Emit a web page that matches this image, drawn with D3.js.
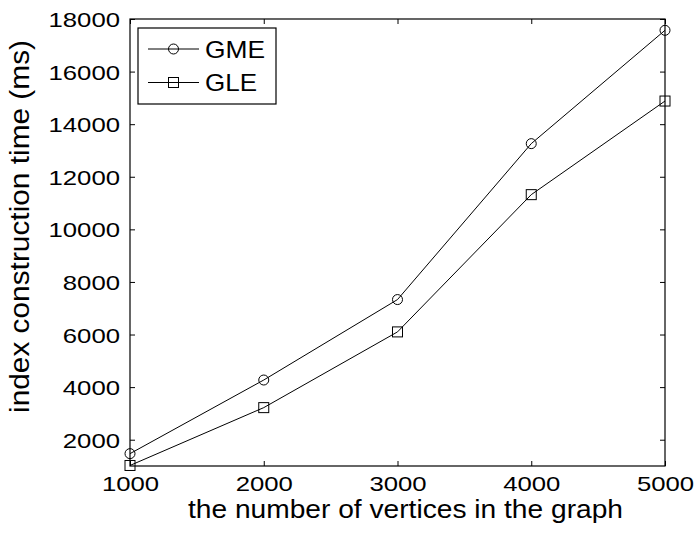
<!DOCTYPE html>
<html>
<head>
<meta charset="utf-8">
<script src="https://cdn.jsdelivr.net/npm/d3@7"></script>
<style>
  body { margin: 0; background: #fff; }
  text { font-family: "Liberation Sans", Arial, sans-serif; fill: #000; }
</style>
</head>
<body>
<script>
// Data
const vertices = [1000, 2000, 3000, 4000, 5000];
const gme = [1470, 4270, 7330, 13260, 17570];
const gle = [1020, 3220, 6100, 11320, 14880];
const xTicks = [1000, 2000, 3000, 4000, 5000];
const yTicks = [2000, 4000, 6000, 8000, 10000, 12000, 14000, 16000, 18000];

// SVG setup
const width = 697;
const height = 533;
const margin = {top: 19, right: 32, bottom: 67, left: 130};
const font = '"Liberation Sans", Arial, sans-serif';

const svg = d3.select('body')
.append('svg')
.attr('width', width)
.attr('height', height);

const xScale = d3.scaleLinear()
.domain([1000, 5000])
.range([margin.left, width - margin.right]);

const yScale = d3.scaleLinear()
.domain([1000, 18000])
.range([height - margin.bottom, margin.top]);

const x0 = xScale.range()[0], x1 = xScale.range()[1];
const y0 = yScale.range()[0], y1 = yScale.range()[1];

// Box
svg.append('rect')
.attr('x', x0)
.attr('y', y1)
.attr('width', x1 - x0)
.attr('height', y0 - y1)
.attr('fill', 'none')
.attr('stroke', '#000')
.attr('stroke-width', 1.2);

// Axes with inward ticks
const tickLen = 5;
const digitW = 14.3;

const xAxis = svg.append('g')
.attr('transform', `translate(0,${y0})`)
.call(d3.axisBottom(xScale).tickValues(xTicks).tickSize(-tickLen).tickFormat(d3.format('d')));

svg.append('g')
.attr('transform', `translate(0,${y1})`)
.call(d3.axisTop(xScale).tickValues(xTicks).tickSize(-tickLen).tickFormat(''));

const yAxis = svg.append('g')
.attr('transform', `translate(${x0},0)`)
.call(d3.axisLeft(yScale).tickValues(yTicks).tickSize(-tickLen).tickPadding(10).tickFormat(d3.format('d')));

svg.append('g')
.attr('transform', `translate(${x1},0)`)
.call(d3.axisRight(yScale).tickValues(yTicks).tickSize(-tickLen).tickFormat(''));

svg.selectAll('.domain').remove();
svg.selectAll('.tick line').attr('stroke', '#000');
svg.selectAll('.tick text')
.attr('font-size', 21)
.attr('font-family', font)
.attr('fill', '#000')
.attr('lengthAdjust', 'spacingAndGlyphs')
.attr('textLength', d => String(d).length * digitW);
xAxis.selectAll('.tick text').attr('y', 25).attr('dy', 0);
yAxis.selectAll('.tick text').attr('dy', '0.36em');

// Axis titles
svg.append('text')
.attr('x', 405.5)
.attr('y', 518)
.attr('text-anchor', 'middle')
.attr('font-size', 25)
.attr('textLength', 435)
.attr('lengthAdjust', 'spacingAndGlyphs')
.text('the number of vertices in the graph');

svg.append('text')
.attr('transform', `translate(29,226.5) rotate(-90)`)
.attr('text-anchor', 'middle')
.attr('font-size', 27)
.attr('textLength', 373)
.attr('lengthAdjust', 'spacingAndGlyphs')
.text('index construction time (ms)');

// Lines
const line = d3.line()
.x((d, i) => xScale(vertices[i]))
.y(d => yScale(d));

const series = [
    {name: 'GME', values: gme, marker: 'circle', textW: 60},
    {name: 'GLE', values: gle, marker: 'square', textW: 52}
];

function drawMarker(g, type, cx, cy) {
    if (type === 'circle') {
        g.append('circle')
        .attr('cx', cx)
        .attr('cy', cy)
        .attr('r', 5)
        .attr('fill', 'none')
        .attr('stroke', '#000');
    } else {
        g.append('rect')
        .attr('x', cx - 5)
        .attr('y', cy - 5)
        .attr('width', 10)
        .attr('height', 10)
        .attr('fill', 'none')
        .attr('stroke', '#000');
    }
}

series.forEach(s => {
    const g = svg.append('g');
    g.append('path')
    .datum(s.values)
    .attr('d', line)
    .attr('fill', 'none')
    .attr('stroke', '#000')
    .attr('stroke-width', 1);
    s.values.forEach((v, i) => drawMarker(g, s.marker, xScale(vertices[i]), yScale(v)));
});

// Legend
const legend = svg.append('g');
legend.append('rect')
.attr('x', 138)
.attr('y', 28)
.attr('width', 138)
.attr('height', 76)
.attr('fill', '#fff')
.attr('stroke', '#000')
.attr('stroke-width', 1.2);

series.forEach((s, i) => {
    const ly = 49 + i * 33.5;
    legend.append('line')
    .attr('x1', 148)
    .attr('x2', 199)
    .attr('y1', ly)
    .attr('y2', ly)
    .attr('stroke', '#000');
    drawMarker(legend, s.marker, 173.5, ly);
    legend.append('text')
    .attr('x', 205)
    .attr('y', ly)
    .attr('dy', '0.36em')
    .attr('font-size', 24)
    .attr('textLength', s.textW)
    .attr('lengthAdjust', 'spacingAndGlyphs')
    .text(s.name);
});
</script>
</body>
</html>
